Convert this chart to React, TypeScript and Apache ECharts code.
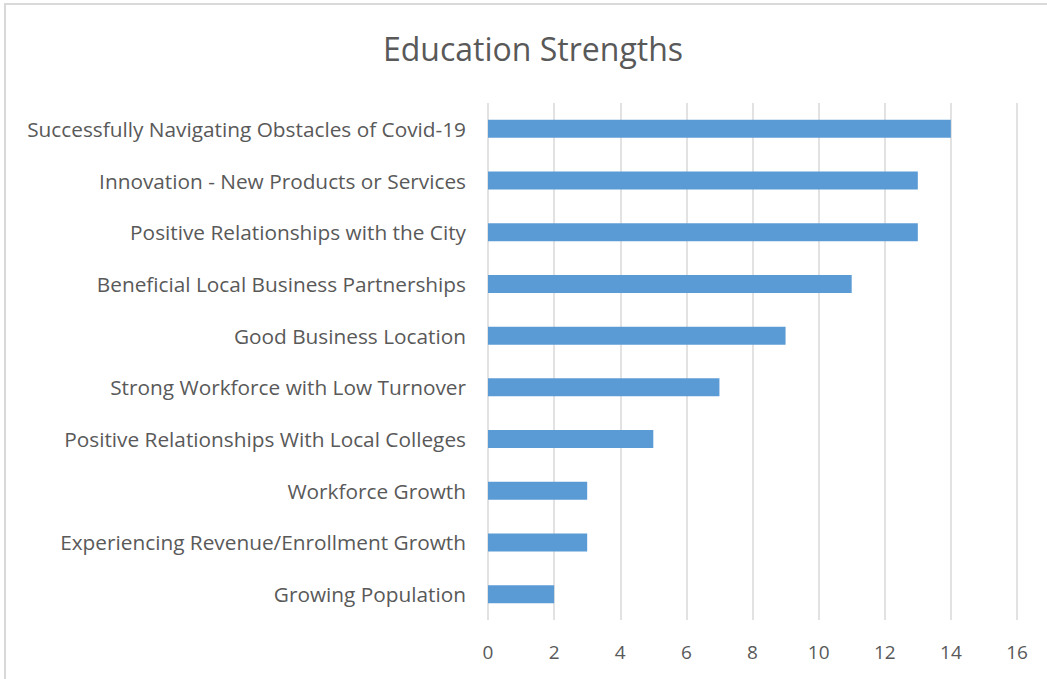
import React, { useEffect, useRef } from "react";
import * as echarts from "echarts";

const categories = [
  "Successfully Navigating Obstacles of Covid-19",
  "Innovation - New Products or Services",
  "Positive Relationships with the City",
  "Beneficial Local Business Partnerships",
  "Good Business Location",
  "Strong Workforce with Low Turnover",
  "Positive Relationships With Local Colleges",
  "Workforce Growth",
  "Experiencing Revenue/Enrollment Growth",
  "Growing Population",
];
const values = [14, 13, 13, 11, 9, 7, 5, 3, 3, 2];
const titleText = "Education Strengths";

export default function App() {
  const ref = useRef<HTMLDivElement>(null);
  useEffect(() => {
    if (!ref.current) return;
    const chart = echarts.init(ref.current, undefined, { renderer: "svg" });
    const font = "Open Sans";
    chart.setOption({
      animation: false,
      backgroundColor: "#ffffff",
      textStyle: { fontFamily: font },
      graphic: [
        {
          type: "rect",
          shape: { x: 5, y: 4, width: 1100, height: 800 },
          style: { fill: "none", stroke: "#d9d9d9", lineWidth: 2 },
          silent: true,
        },
        {
          type: "text",
          x: 533,
          y: 48,
          style: {
            text: titleText,
            fontSize: 32,
            fill: "#595959",
            fontFamily: font,
            textAlign: "center",
            textVerticalAlign: "middle",
          },
        },
      ],
      grid: { left: 488, right: 30, top: 103, bottom: 59, containLabel: false },
      xAxis: {
        type: "value",
        min: 0,
        max: 16,
        interval: 2,
        axisLine: { show: false },
        axisTick: { show: false },
        splitLine: { show: true, lineStyle: { color: "#d9d9d9", width: 1.5 } },
        axisLabel: { color: "#595959", fontSize: 19, margin: 22, fontFamily: font },
      },
      yAxis: {
        type: "category",
        data: categories,
        inverse: true,
        axisLine: { show: false },
        axisTick: { show: false },
        axisLabel: { color: "#595959", fontSize: 20.8, margin: 22, fontFamily: font },
      },
      series: [
        {
          type: "bar",
          data: values,
          barWidth: 18,
          itemStyle: { color: "#5b9bd5" },
        },
      ],
    });
    return () => chart.dispose();
  }, []);
  return (
    <div
      ref={ref}
      style={{ position: "fixed", left: 0, top: 0, width: 1047, height: 679 }}
    />
  );
}
